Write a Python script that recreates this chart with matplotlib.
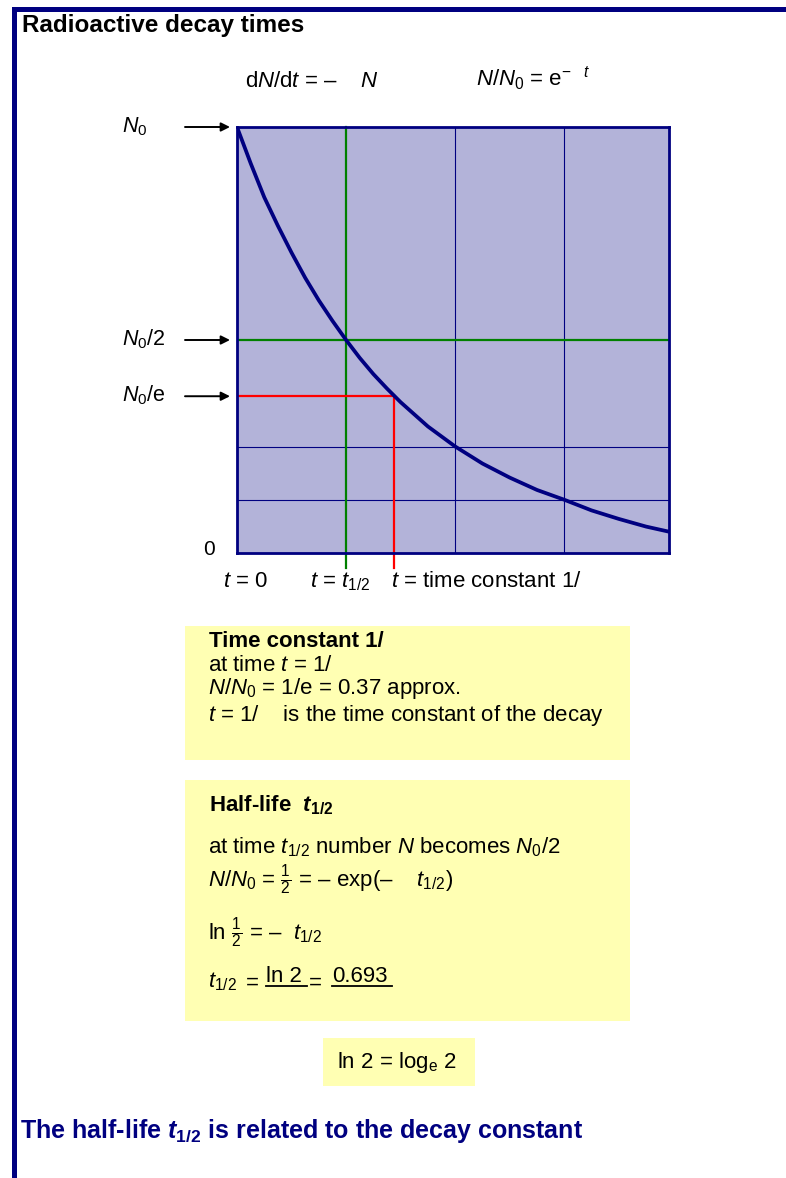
import numpy as np
import matplotlib.pyplot as plt
from matplotlib.patches import Rectangle
from matplotlib.transforms import blended_transform_factory

# N/N0, time in half-lives
t_vals = [0, 0.125, 0.25, 0.375, 0.5, 0.625, 0.75, 0.875, 1.0, 1.125, 1.25, 1.375, 1.5,
          1.75, 2.0, 2.25, 2.5, 2.75, 3.0, 3.25, 3.5, 3.75, 3.96]
n_vals = [1.0, 0.915, 0.835, 0.768, 0.705, 0.646, 0.593, 0.545, 0.5, 0.458, 0.42, 0.386, 0.354,
          0.297, 0.25, 0.21, 0.177, 0.148, 0.125, 0.1, 0.08, 0.062, 0.05]

# grid at whole half-lives and the matching fractions of N0
grid_t = [1, 2, 3]
grid_n = [0.5, 0.25, 0.125]

t_half = 1.0
n_half = 0.5
time_const = 1.443   # 1/lambda in half-lives
n_over_e = 0.368     # 1/e

level_vals = [1.0, n_half, n_over_e]
level_labels = ['$N_0$', '$N_0$/2', '$N_0$/e']

navy = '#000080'
plot_bg = '#B3B3D9'
note_bg = '#FFFFB3'
green = '#008000'
red = '#FF0000'

plt.rcParams['font.family'] = 'Liberation Sans'
plt.rcParams['mathtext.fontset'] = 'custom'
plt.rcParams['mathtext.rm'] = 'Liberation Sans'
plt.rcParams['mathtext.it'] = 'Liberation Sans:italic'
plt.rcParams['mathtext.bf'] = 'Liberation Sans:bold'
plt.rcParams['mathtext.bfit'] = 'Liberation Sans:bold:italic'

W, H = 786, 1178
fs = 16
fig = plt.figure(figsize=(W / 100, H / 100), dpi=100)

# full-page axes in pixel units (y down) for the text and boxes
bg = fig.add_axes([0, 0, 1, 1])
bg.set_xlim(0, W)
bg.set_ylim(H, 0)
bg.axis('off')

ax = fig.add_axes([237 / W, (H - 553) / H, 432 / W, 426 / H])
ax.set_facecolor(plot_bg)
ax.set_xlim(0, 3.96)
ax.set_ylim(0, 1)
ax.set_xticks([])
ax.set_yticks([])
for s in ax.spines.values():
    s.set_color(navy)
    s.set_linewidth(2)

for t in grid_t[1:]:
    ax.axvline(t, color=navy, lw=0.8, zorder=1)
for n in grid_n[1:]:
    ax.axhline(n, color=navy, lw=0.8, zorder=1)

ax.plot([t_half, t_half], [-0.035, 1], color=green, lw=1.6, clip_on=False, zorder=2)
ax.axhline(n_half, color=green, lw=1.6, zorder=2)
ax.plot([0, time_const], [n_over_e, n_over_e], color=red, lw=1.6, zorder=2)
ax.plot([time_const, time_const], [-0.035, n_over_e], color=red, lw=1.6, clip_on=False, zorder=2)

ax.plot(t_vals, n_vals, color=navy, lw=2.7, solid_capstyle='round', solid_joinstyle='round',
        zorder=3)

# arrows and labels for the levels on the N axis
ytrans = blended_transform_factory(bg.transData, ax.transData)
for lvl, lab in zip(level_vals, level_labels):
    bg.annotate('', xy=(230, lvl), xytext=(185, lvl), xycoords=ytrans, textcoords=ytrans,
                arrowprops=dict(arrowstyle='-|>', color='black', lw=1.4, mutation_scale=13,
                                shrinkA=0, shrinkB=0))
    bg.annotate(lab, xy=(122, lvl), xycoords=ytrans, xytext=(0, -5), textcoords='offset pixels',
                fontsize=15.5, va='baseline', ha='left')
bg.text(209, 555, '0', fontsize=15, ha='center', va='baseline')

# time labels under the axis
xtrans = blended_transform_factory(ax.transData, bg.transData)
bg.annotate('$t$ = 0', xy=(0, 587), xycoords=xtrans, xytext=(-14, 0), textcoords='offset pixels',
            fontsize=fs, va='baseline')
bg.annotate('$t$ = $t_{1/2}$', xy=(t_half, 587), xycoords=xtrans, xytext=(-36, 0),
            textcoords='offset pixels', fontsize=fs, va='baseline')
bg.annotate('$t$ = time constant 1/', xy=(time_const, 587), xycoords=xtrans, xytext=(-3, 0),
            textcoords='offset pixels', fontsize=fs, va='baseline')

# page frame
bg.add_patch(Rectangle((12, 7), W - 12, 5, color=navy, lw=0))
bg.add_patch(Rectangle((12, 7), 5, H - 7, color=navy, lw=0))

bg.text(22, 32, 'Radioactive decay times', fontsize=17.5, fontweight='bold', va='baseline')
bg.text(245, 87, 'd$N$/d$t$ = –    $N$', fontsize=fs, va='baseline')
bg.text(476, 86, '$N$/$N_0$ = e$^{-\\ \\ \\ t}$', fontsize=fs, va='baseline')

# time constant note
bg.add_patch(Rectangle((185, 626), 445, 134, color=note_bg, lw=0))
bg.text(209, 647, 'Time constant 1/', fontsize=fs, fontweight='bold', va='baseline')
bg.text(208, 671, 'at time $t$ = 1/', fontsize=fs, va='baseline')
bg.text(208, 694, '$N$/$N_0$ = 1/e = 0.37 approx.', fontsize=fs, va='baseline')
bg.text(208, 721, '$t$ = 1/    is the time constant of the decay', fontsize=fs, va='baseline')

# half-life note
bg.add_patch(Rectangle((185, 780), 445, 241, color=note_bg, lw=0))
bg.text(209, 811, 'Half-life  $\\mathbfit{t}_{\\mathbf{1/2}}$', fontsize=fs, fontweight='bold',
        va='baseline')
bg.text(208, 853, 'at time $t_{1/2}$ number $N$ becomes $N_0$/2', fontsize=fs, va='baseline')
bg.text(208, 886, '$N$/$N_0$ = $\\frac{1}{2}$ = – exp(–    $t_{1/2}$)', fontsize=fs, va='baseline')
bg.text(208, 939, 'ln $\\frac{1}{2}$ = –  $t_{1/2}$', fontsize=fs, va='baseline')
bg.text(208, 987, '$t_{1/2}$', fontsize=fs, va='baseline')
bg.text(246, 989, '=', fontsize=fs, va='baseline')
bg.text(266, 982, 'ln 2', fontsize=fs, va='baseline')
bg.plot([266, 307], [986, 986], color='black', lw=1.3)
bg.text(309, 989, '=', fontsize=fs, va='baseline')
bg.text(332, 982, '0.693', fontsize=fs, va='baseline')
bg.plot([332, 392], [986, 986], color='black', lw=1.3)

bg.add_patch(Rectangle((323, 1038), 152, 48, color=note_bg, lw=0))
bg.text(337, 1068, 'ln 2 = log$_\\mathrm{e}$ 2', fontsize=fs, va='baseline')

bg.text(20, 1138, 'The half-life $\\mathbfit{t}_{\\mathbf{1/2}}$ is related to the decay constant',
        fontsize=18, fontweight='bold', color=navy, va='baseline')

fig.savefig('out.png', dpi=100)
